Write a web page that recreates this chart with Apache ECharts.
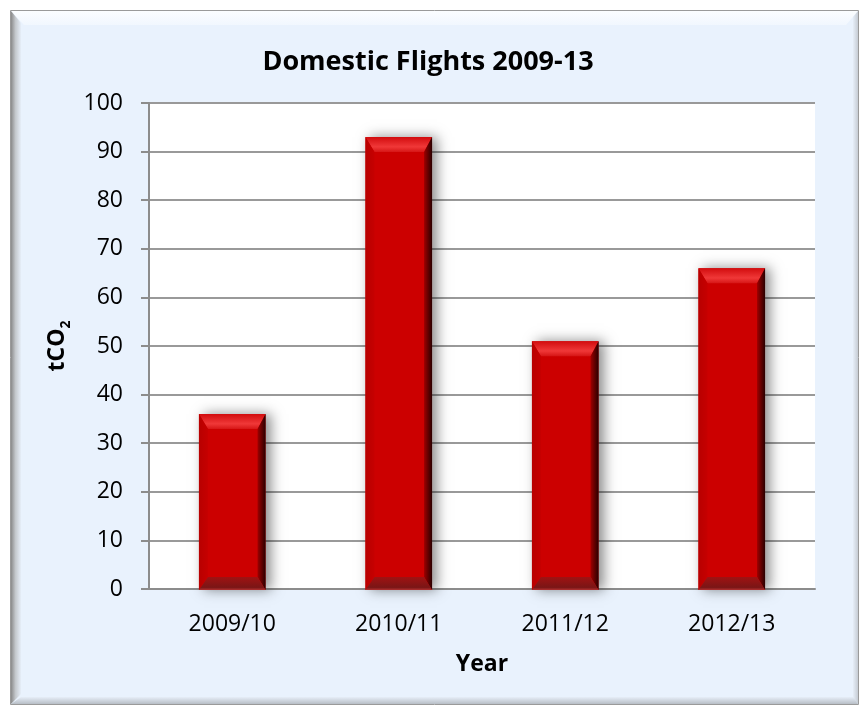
<!DOCTYPE html>
<html>
<head>
<meta charset="utf-8">
<title>Domestic Flights 2009-13</title>
<script src="https://cdn.jsdelivr.net/npm/echarts@6/dist/echarts.min.js"></script>
<style>
  html, body { margin: 0; padding: 0; background: #ffffff; }
  #chart { width: 862px; height: 706px; }
</style>
</head>
<body>
<div id="chart"></div>
<script>
// Domestic flight emissions per financial year (tCO2)
const categories = ['2009/10', '2010/11', '2011/12', '2012/13'];
const emissions = [36, 93, 51, 66];

// Value axis range
const yMin = 0;
const yMax = 100;
const yStep = 10;

const FONT = 'Open Sans';

// Bevelled bar: flat face with four sloped edges and a soft drop shadow
function renderBevelBar(params, api) {
  const idx = api.value(0);
  const val = api.value(1);
  const top = api.coord([idx, val]);
  const base = api.coord([idx, 0]);
  const w = api.size([1, 0])[0] * 0.4;
  const x0 = top[0] - w / 2, x1 = top[0] + w / 2;
  const y0 = top[1], y1 = base[1] + 1;
  const t = 15, b = 13, l = 9, r = 8;
  const grad = (x, y, x2, y2, stops) => ({
    type: 'linear', x: x, y: y, x2: x2, y2: y2, global: false,
    colorStops: stops.map(s => ({ offset: s[0], color: s[1] }))
  });
  return {
    type: 'group',
    children: [
      {
        type: 'rect',
        shape: { x: x0, y: y0, width: w, height: y1 - y0 },
        style: {
          fill: '#cc0000',
          shadowBlur: 12,
          shadowOffsetX: 5,
          shadowOffsetY: 0,
          shadowColor: 'rgba(0,0,0,0.45)'
        }
      },
      {
        type: 'polygon',
        shape: { points: [[x0, y0], [x1, y0], [x1 - r, y0 + t], [x0 + l, y0 + t]] },
        style: { fill: grad(0, 0, 0, 1, [[0, '#d20c0e'], [0.65, '#f03838'], [1, '#d61616']]) }
      },
      {
        type: 'polygon',
        shape: { points: [[x0, y0], [x0 + l, y0 + t], [x0 + l, y1 - b], [x0, y1]] },
        style: { fill: grad(0, 0, 1, 0, [[0, '#b80000'], [1, '#c60000']]) }
      },
      {
        type: 'polygon',
        shape: { points: [[x1, y0], [x1 - r, y0 + t], [x1 - r, y1 - b], [x1, y1]] },
        style: { fill: grad(0, 0, 1, 0, [[0, '#9e0000'], [1, '#2a0000']]) }
      },
      {
        type: 'polygon',
        shape: { points: [[x0, y1], [x1, y1], [x1 - r, y1 - b], [x0 + l, y1 - b]] },
        style: { fill: grad(0, 0, 0, 1, [[0, '#a01212'], [0.8, '#7a1616'], [1, '#b03030']]) }
      }
    ]
  };
}

const chart = echarts.init(document.getElementById('chart'), null, { renderer: 'canvas' });

const option = {
  backgroundColor: '#ffffff',
  animation: false,
  title: {
    text: 'Domestic Flights 2009-13',
    left: 428,
    top: 62,
    textAlign: 'center',
    textVerticalAlign: 'middle',
    padding: 0,
    textStyle: { fontFamily: FONT, fontSize: 27, fontWeight: 'bold', color: '#000000' }
  },
  graphic: [
    // chart panel with bevelled frame
    {
      type: 'rect', z: -10, silent: true,
      shape: { x: 10.5, y: 10.5, width: 848, height: 694 },
      style: { fill: '#e9f2fd', stroke: '#9a9a9a', lineWidth: 1 }
    },
    {
      type: 'polygon', z: -9, silent: true,
      shape: { points: [[11, 11], [858, 11], [846, 25], [24, 25]] },
      style: {
        fill: { type: 'linear', x: 0, y: 0, x2: 0, y2: 1, colorStops: [
          { offset: 0, color: '#fbfdff' }, { offset: 1, color: '#f1f7fe' }] }
      }
    },
    {
      type: 'polygon', z: -8, silent: true,
      shape: { points: [[11, 11], [21, 23], [21, 694], [11, 704]] },
      style: {
        fill: { type: 'linear', x: 0, y: 0, x2: 1, y2: 0, colorStops: [
          { offset: 0, color: '#8a8a8a' }, { offset: 0.45, color: '#c4c8cc' }, { offset: 1, color: '#e6eef8' }] }
      }
    },
    {
      type: 'polygon', z: -8, silent: true,
      shape: { points: [[858, 11], [853, 17], [853, 699], [858, 704]] },
      style: {
        fill: { type: 'linear', x: 0, y: 0, x2: 1, y2: 0, colorStops: [
          { offset: 0, color: '#e6eef8' }, { offset: 1, color: '#c6ccd4' }] }
      }
    },
    {
      type: 'polygon', z: -8, silent: true,
      shape: { points: [[11, 704], [21, 697], [853, 697], [858, 704]] },
      style: {
        fill: { type: 'linear', x: 0, y: 0, x2: 0, y2: 1, colorStops: [
          { offset: 0, color: '#e6eef8' }, { offset: 1, color: '#b8bec6' }] }
      }
    }
  ],
  grid: {
    left: 149,
    right: 47,
    top: 103,
    bottom: 117,
    show: true,
    backgroundColor: '#ffffff',
    borderWidth: 0,
    containLabel: false
  },
  xAxis: {
    type: 'category',
    data: categories,
    name: 'Year',
    nameLocation: 'middle',
    nameGap: 64,
    nameTextStyle: { fontFamily: FONT, fontSize: 23, fontWeight: 'bold', color: '#000000' },
    axisLine: { show: true, lineStyle: { color: '#8c8c8c', width: 2 } },
    axisTick: { show: false },
    axisLabel: { fontFamily: FONT, fontSize: 23, color: '#000000', margin: 24 },
    splitLine: { show: false }
  },
  yAxis: {
    type: 'value',
    min: yMin,
    max: yMax,
    interval: yStep,
    name: '{a|tCO}{b|2}',
    nameLocation: 'middle',
    nameRotate: 90,
    nameGap: 76,
    nameTextStyle: {
      rich: {
        a: { fontFamily: FONT, fontSize: 23, fontWeight: 'bold', color: '#000000', lineHeight: 30 },
        b: { fontFamily: FONT, fontSize: 14, fontWeight: 'bold', color: '#000000', lineHeight: 14, verticalAlign: 'bottom' }
      }
    },
    axisLine: { show: true, lineStyle: { color: '#8c8c8c', width: 2 } },
    axisTick: { show: true, inside: false, length: 8, lineStyle: { color: '#8c8c8c', width: 2 } },
    axisLabel: { fontFamily: FONT, fontSize: 23, color: '#000000', margin: 26 },
    splitLine: { show: true, lineStyle: { color: '#999999', width: 2 } }
  },
  series: [
    {
      type: 'custom',
      name: 'tCO2',
      renderItem: renderBevelBar,
      encode: { x: 0, y: 1 },
      data: emissions.map((v, i) => [i, v]),
      z: 3
    }
  ]
};

chart.setOption(option);
</script>
</body>
</html>
